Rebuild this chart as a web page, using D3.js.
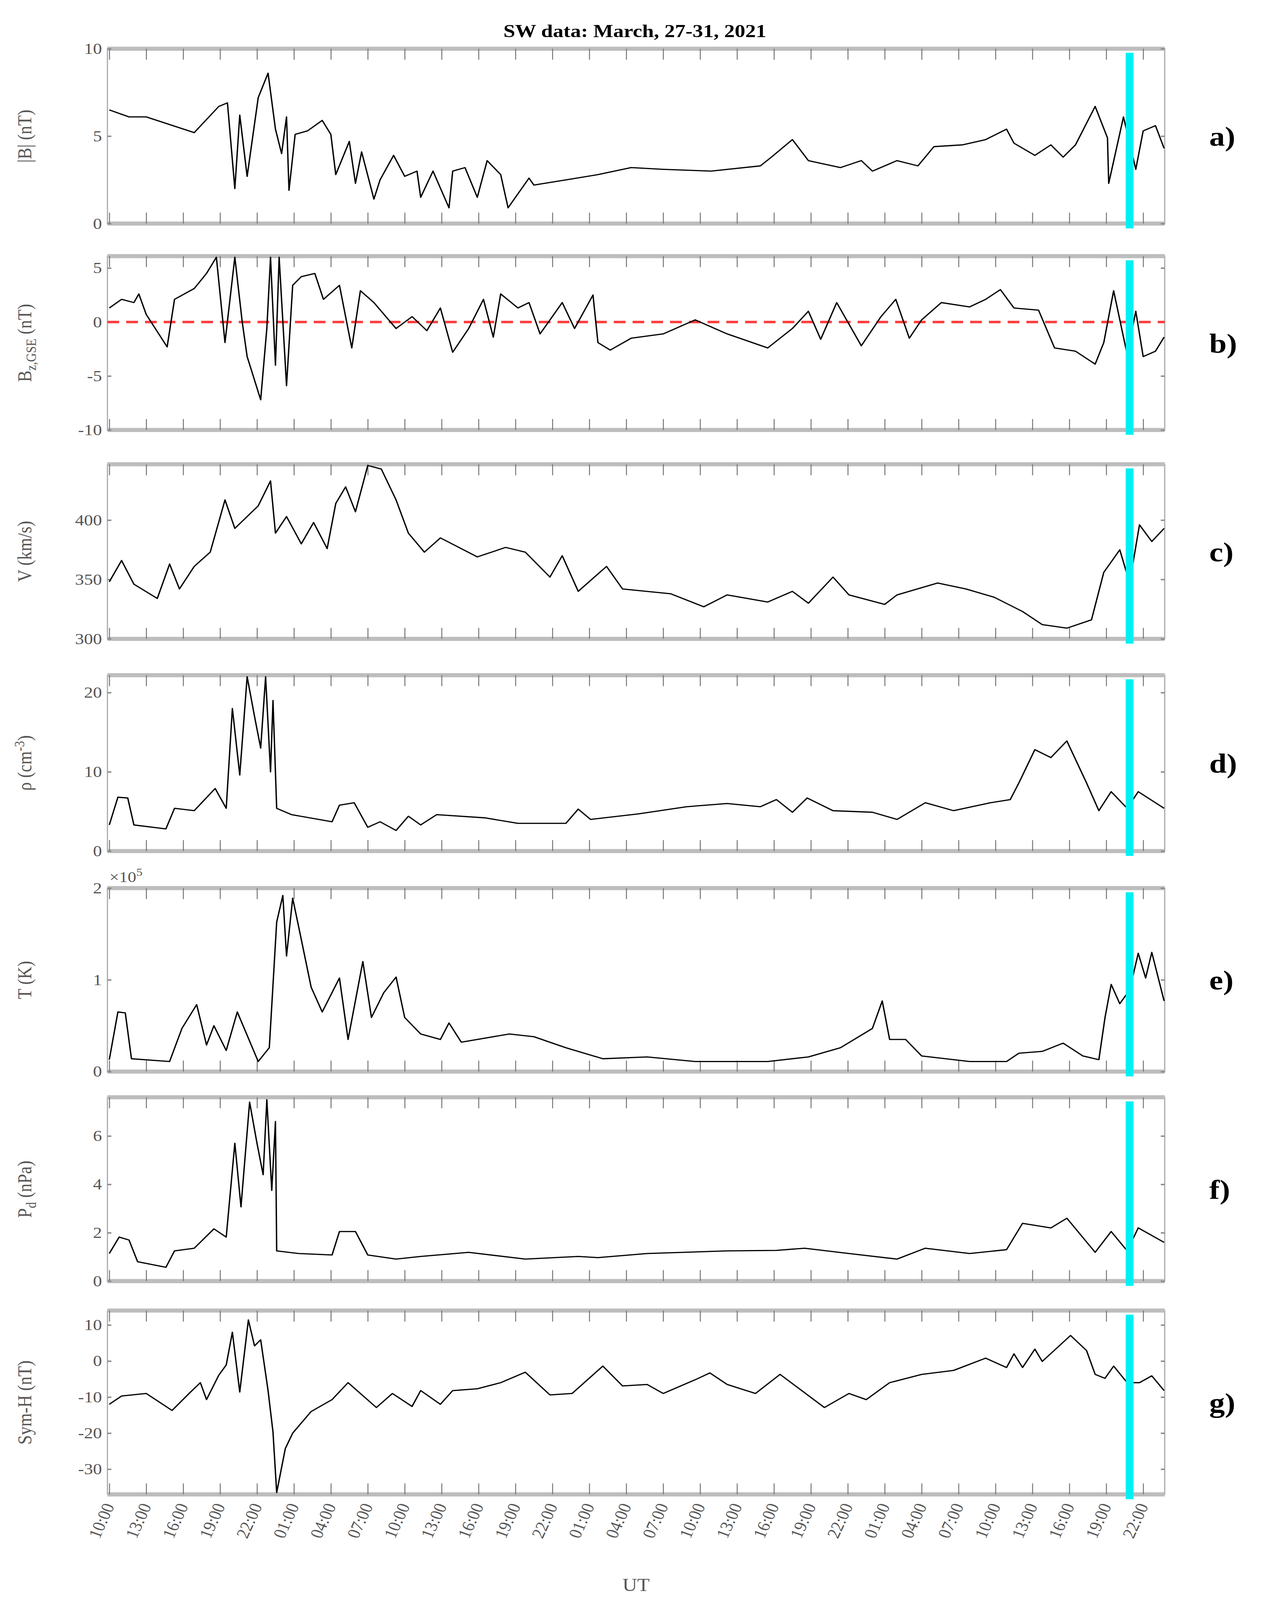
<!DOCTYPE html>
<html>
<head>
<meta charset="utf-8">
<script src="https://cdn.jsdelivr.net/npm/d3@7"></script>
<style>
  html, body { margin: 0; padding: 0; background: #fff; overflow: hidden; }
  svg { display: block; width: 100vw; height: 100vh; }
  text { font-family: "Liberation Serif", "DejaVu Serif", serif; }
</style>
</head>
<body>
<svg id="chart"></svg>
<script>
let width = 3230;
let height = 4666;

// hours since 10:00 UT, 27 March 2021
let tickLabels = ['10:00','13:00','16:00','19:00','22:00',
  '01:00','04:00','07:00','10:00','13:00','16:00','19:00','22:00',
  '01:00','04:00','07:00','10:00','13:00','16:00','19:00','22:00',
  '01:00','04:00','07:00','10:00','13:00','16:00','19:00','22:00'];
let cyanHour = 82.9;

let bMag = [[0,6.5],[1.6,6.1],[3,6.1],[6.9,5.2],[8.9,6.7],[9.6,6.9],[10.2,2.0],[10.6,6.2],[11.2,2.7],[12.1,7.2],[12.9,8.6],[13.5,5.4],[14,4.0],[14.4,6.1],[14.6,1.9],[15.1,5.1],[16.1,5.3],[17.3,5.9],[18,5.1],[18.4,2.8],[19.5,4.7],[20,2.3],[20.5,4.1],[21.5,1.4],[22,2.5],[23.1,3.9],[24,2.7],[25,3.0],[25.3,1.5],[26.3,3.0],[27.6,0.9],[27.9,3.0],[28.9,3.2],[29.9,1.5],[30.7,3.6],[31.8,2.8],[32.4,0.9],[33.2,1.7],[34.1,2.6],[34.5,2.2],[37.1,2.5],[39.7,2.8],[42.4,3.2],[45,3.1],[48.9,3.0],[52.9,3.3],[53.8,3.8],[55.5,4.8],[56.8,3.6],[59.4,3.2],[61.1,3.6],[62,3.0],[64,3.6],[65.7,3.3],[67,4.4],[69.3,4.5],[71.2,4.8],[72.9,5.4],[73.5,4.6],[75.2,3.9],[76.5,4.5],[77.5,3.8],[78.5,4.5],[80.1,6.7],[81.1,4.9],[81.2,2.3],[82.4,6.1],[83.4,3.1],[84,5.3],[85,5.6],[85.7,4.3]];

let bz = [[0,1.3],[1,2.1],[2,1.8],[2.4,2.6],[3,0.7],[4.7,-2.3],[5.3,2.1],[6.9,3.1],[7.9,4.5],[8.7,6],[9.4,-1.9],[10.2,6],[10.8,0],[11.2,-3.2],[12.3,-7.2],[12.8,-0.6],[13.1,6],[13.5,-4],[13.8,6],[14.4,-5.9],[14.9,3.4],[15.6,4.2],[16.7,4.5],[17.4,2.1],[18.7,3.4],[19.7,-2.4],[20.4,2.9],[21.5,1.8],[23.3,-0.6],[24.6,0.5],[25.8,-0.8],[26.9,1.3],[27.9,-2.8],[29.2,-0.6],[30.4,2.1],[31.2,-1.4],[31.8,2.6],[33.2,1.3],[34.1,1.8],[35,-1.1],[36.8,1.8],[37.8,-0.6],[39.3,2.5],[39.7,-1.9],[40.7,-2.6],[42.4,-1.5],[45,-1.1],[47.6,0.2],[50.2,-1.1],[53.5,-2.4],[55.5,-0.6],[56.8,1],[57.8,-1.6],[59.1,1.8],[61.1,-2.2],[62.7,0.5],[63.9,2.1],[65,-1.5],[66,0.2],[67.6,1.8],[69.9,1.4],[71.2,2.1],[72.4,3],[73.5,1.3],[75.5,1.1],[76.8,-2.4],[78.5,-2.7],[80.1,-3.9],[80.8,-1.9],[81.6,2.9],[82.4,-1.4],[82.7,-3],[83.4,1],[84,-3.2],[85,-2.7],[85.7,-1.4]];

let speed = [[0,348],[1,366],[2,346],[3.9,334],[4.9,363],[5.7,342],[6.9,361],[8.2,373],[9.4,417],[10.2,393],[12.1,412],[13.1,433],[13.5,389],[14.4,403],[15.6,380],[16.6,398],[17.7,376],[18.4,414],[19.2,428],[20,407],[21,446],[22.1,443],[23.3,417],[24.3,389],[25.6,373],[26.9,385],[29.9,369],[32.2,377],[33.8,373],[35.8,352],[36.8,370],[38.1,340],[40.4,361],[41.7,342],[45.6,338],[48.3,327],[50.2,337],[53.5,331],[55.5,340],[56.8,330],[58.8,352],[60.1,337],[63,329],[64,337],[67.3,347],[69.6,342],[71.9,335],[74.2,323],[75.8,312],[77.8,309],[79.8,316],[80.8,356],[82.1,375],[82.9,347],[83.7,396],[84.7,382],[85.7,393]];

let density = [[0,3.3],[0.7,6.8],[1.5,6.7],[2,3.3],[4.6,2.8],[5.3,5.4],[6.9,5.1],[8.6,7.9],[9.5,5.4],[10,18],[10.6,9.6],[11.2,22],[11.8,17],[12.3,13],[12.7,22],[13.1,10],[13.3,19],[13.6,5.4],[14.8,4.6],[18.1,3.7],[18.7,5.8],[19.9,6.1],[21,3],[22,3.7],[23.3,2.6],[24.3,4.4],[25.3,3.3],[26.6,4.6],[30.5,4.2],[33.2,3.5],[37.1,3.5],[38.1,5.3],[39.1,4],[43,4.7],[46.9,5.6],[50.2,6],[52.9,5.6],[54.2,6.5],[55.5,4.9],[56.7,6.7],[58.8,5.1],[62,4.9],[64,4],[66.3,6.1],[68.6,5.1],[71.6,6.1],[73.2,6.5],[73.9,8.6],[75.2,12.8],[76.5,11.8],[77.8,13.9],[79.4,8.6],[80.4,5.1],[81.4,7.5],[82.7,5.4],[83.6,7.5],[85.7,5.4]];

let temp = [[0,13000],[0.7,65000],[1.3,64000],[1.8,14000],[4.9,11000],[5.9,47000],[7.1,73000],[7.9,29000],[8.5,50000],[9.5,23000],[10.4,65000],[12.1,11000],[13,26000],[13.6,163000],[14.1,192000],[14.4,126000],[14.9,189000],[15.6,144000],[16.4,92000],[17.3,65000],[18.7,102000],[19.4,35000],[20.6,120000],[21.3,59000],[22.3,86000],[23.3,103000],[24,59000],[25.3,41000],[26.9,35000],[27.6,53000],[28.6,32000],[32.5,41000],[34.5,38000],[37.1,26000],[40.1,14000],[43.7,16000],[47.6,11000],[53.5,11000],[56.8,16000],[59.4,26000],[62,47000],[62.8,77000],[63.4,35000],[64.7,35000],[66,17000],[69.9,11000],[72.9,11000],[73.9,20000],[75.8,22000],[77.5,31000],[79.1,17000],[80.4,13000],[80.9,59000],[81.4,95000],[82.1,74000],[82.9,89000],[83.6,129000],[84.2,102000],[84.7,130000],[85.7,77000]];

let pressure = [[0,1.14],[0.8,1.82],[1.6,1.7],[2.3,0.8],[4.6,0.57],[5.3,1.25],[6.9,1.36],[8.5,2.16],[9.5,1.82],[10.2,5.7],[10.7,3.07],[11.4,7.4],[12,5.7],[12.5,4.4],[12.8,7.5],[13.2,3.75],[13.5,6.6],[13.6,1.25],[15.4,1.14],[18.1,1.08],[18.7,2.05],[20,2.05],[21,1.08],[23.3,0.91],[25.3,1.02],[29.2,1.19],[33.8,0.91],[38.1,1.02],[39.7,0.97],[43.7,1.14],[50.2,1.25],[54.2,1.27],[56.5,1.36],[60.1,1.14],[64,0.91],[66.3,1.36],[69.9,1.14],[72.9,1.3],[74.2,2.39],[76.5,2.2],[77.8,2.6],[80.1,1.19],[81.4,2.05],[82.7,1.25],[83.6,2.2],[85.7,1.6]];

let symH = [[0,-12],[1,-9.7],[3,-9],[5.1,-13.7],[6.6,-8.6],[7.4,-6],[7.9,-10.7],[8.9,-3.9],[9.5,-1.1],[10,8],[10.6,-8.6],[11.3,11.4],[11.8,4.2],[12.3,5.9],[12.9,-8.2],[13.3,-19.7],[13.6,-36.5],[14.3,-24.3],[14.9,-20],[16.4,-14],[18.1,-10.7],[19.4,-6],[21.7,-12.9],[23,-9],[24.6,-12.6],[25.3,-8.2],[26.9,-12],[27.9,-8.2],[29.9,-7.7],[31.8,-6],[33.8,-3.1],[35.8,-9.4],[37.6,-9],[40.1,-1.4],[41.7,-6.9],[43.7,-6.5],[45,-9],[47.6,-5.2],[48.8,-3.3],[50.2,-6.5],[52.5,-9],[54.5,-3.7],[58.1,-12.9],[60.1,-9],[61.5,-10.7],[63.4,-6],[66,-3.7],[68.6,-2.6],[71.2,0.8],[72.9,-1.8],[73.5,2],[74.2,-1.8],[75.2,3.3],[75.8,-0.1],[78.1,7.1],[79.4,2.9],[80.1,-3.7],[80.9,-4.8],[81.6,-1.4],[82.7,-6],[83.7,-6],[84.7,-4.1],[85.7,-8.2]];

let panels = [
  { data: bMag, top: 142, bottom: 652, domain: [0, 10], ticks: [0, 5, 10], letter: 'a)' },
  { data: bz, top: 747, bottom: 1254, domain: [-10, 6.1], ticks: [-10, -5, 0, 5], letter: 'b)', zero: true },
  { data: speed, top: 1354, bottom: 1863, domain: [300, 447], ticks: [300, 350, 400], letter: 'c)' },
  { data: density, top: 1969, bottom: 2482, domain: [0, 22.2], ticks: [0, 10, 20], letter: 'd)' },
  { data: temp, top: 2590, bottom: 3125, domain: [0, 200000], ticks: [0, 100000, 200000], letter: 'e)', fmt: d => d / 1e5 },
  { data: pressure, top: 3200, bottom: 3736, domain: [0, 7.6], ticks: [0, 2, 4, 6], letter: 'f)' },
  { data: symH, top: 3822, bottom: 4358, domain: [-37, 14], ticks: [-30, -20, -10, 0, 10], letter: 'g)' }
];

let left = 275;
let right = 2981;

// stretch the 3230x4666 drawing over the whole window
let svg = d3.select('#chart')
  .attr('viewBox', `0 0 ${width} ${height}`)
  .attr('preserveAspectRatio', 'none');

let xScale = d3.scaleLinear().domain([-0.15, 85.75]).range([left, right]);
let tickHours = tickLabels.map((d, i) => i * 3);

svg.append('text')
  .attr('x', 1625).attr('y', 108)
  .attr('text-anchor', 'middle')
  .attr('font-size', 54).attr('font-weight', 'bold')
  .text('SW data: March, 27-31, 2021');

panels.forEach(p => {
  let y = d3.scaleLinear().domain(p.domain).range([p.bottom, p.top]);
  let g = svg.append('g');

  // frame
  g.append('rect').attr('x', left).attr('y', p.top).attr('width', right - left)
    .attr('height', p.bottom - p.top).attr('fill', 'none').attr('stroke', '#aaa').attr('stroke-width', 3);
  [p.top, p.bottom].forEach(yy => g.append('line')
    .attr('x1', left).attr('x2', right).attr('y1', yy).attr('y2', yy)
    .attr('stroke', '#bdbdbd').attr('stroke-width', 12));

  // x ticks (inside)
  g.append('g').attr('transform', `translate(0,${p.bottom})`)
    .call(d3.axisTop(xScale).tickValues(tickHours).tickSize(32).tickFormat(''))
    .call(a => a.select('.domain').remove())
    .call(a => a.selectAll('line').attr('stroke', '#777').attr('stroke-width', 2.5));
  g.append('g').attr('transform', `translate(0,${p.top})`)
    .call(d3.axisBottom(xScale).tickValues(tickHours).tickSize(32).tickFormat(''))
    .call(a => a.select('.domain').remove())
    .call(a => a.selectAll('line').attr('stroke', '#777').attr('stroke-width', 2.5));

  // y ticks
  g.append('g').attr('transform', `translate(${left},0)`)
    .call(d3.axisRight(y).tickValues(p.ticks).tickSize(10).tickFormat(''))
    .call(a => a.select('.domain').remove())
    .call(a => a.selectAll('line').attr('stroke', '#888').attr('stroke-width', 4));
  g.append('g').attr('transform', `translate(${right},0)`)
    .call(d3.axisLeft(y).tickValues(p.ticks).tickSize(10).tickFormat(''))
    .call(a => a.select('.domain').remove())
    .call(a => a.selectAll('line').attr('stroke', '#888').attr('stroke-width', 4));
  g.selectAll('.ylab').data(p.ticks).enter().append('text')
    .attr('x', left - 14).attr('y', d => y(d) + 15)
    .attr('text-anchor', 'end').attr('font-size', 46).attr('fill', '#555')
    .text(d => p.fmt ? p.fmt(d) : d);

  if (p.zero) {
    g.append('line').attr('x1', left).attr('x2', right)
      .attr('y1', y(0)).attr('y2', y(0))
      .attr('stroke', '#ff3b3b').attr('stroke-width', 7).attr('stroke-dasharray', '30,18');
  }

  let line = d3.line().x(d => xScale(d[0])).y(d => y(d[1]));
  g.append('path').datum(p.data).attr('d', line)
    .attr('fill', 'none').attr('stroke', '#000').attr('stroke-width', 3.5).attr('stroke-linejoin', 'round');

  // cyan marker
  g.append('rect').attr('x', xScale(cyanHour) - 10).attr('y', p.top + 12)
    .attr('width', 20).attr('height', p.bottom - p.top + 2)
    .attr('fill', '#00f0f5');

  g.append('text')
    .attr('x', 3095).attr('y', (p.top + p.bottom) / 2 + 28)
    .attr('font-size', 80).attr('font-weight', 'bold').text(p.letter);
});

// y labels
let yLabels = [
  { y: 397, parts: [['|B| (nT)', false]] },
  { y: 1000, parts: [['B', false], ['z,GSE', true], [' (nT)', false]] },
  { y: 1608, parts: [['V (km/s)', false]] },
  { y: 2225, parts: [['ρ (cm', false], ['-3', 'sup'], [')', false]] },
  { y: 2858, parts: [['T (K)', false]] },
  { y: 3468, parts: [['P', false], ['d', true], [' (nPa)', false]] },
  { y: 4090, parts: [['Sym-H (nT)', false]] }
];
yLabels.forEach(l => {
  let t = svg.append('text')
    .attr('transform', `translate(80,${l.y}) rotate(-90)`)
    .attr('text-anchor', 'middle').attr('font-size', 50).attr('fill', '#555');
  l.parts.forEach(pt => {
    let s = t.append('tspan').text(pt[0]);
    if (pt[1] === true) s.attr('font-size', 36).attr('dy', 12);
    else if (pt[1] === 'sup') s.attr('font-size', 36).attr('dy', -18);
    else if (pt[0].startsWith(' ') || pt[0] === ')') s.attr('dy', pt[0] === ')' ? 18 : -12);
  });
});

// x10^5 exponent
let ex = svg.append('text').attr('x', 280).attr('y', 2572).attr('font-size', 44).attr('fill', '#555');
ex.append('tspan').text('×10');
ex.append('tspan').attr('font-size', 32).attr('dy', -18).text('5');

// x tick labels
svg.selectAll('.xlab').data(tickLabels).enter().append('text')
  .attr('transform', (d, i) => `translate(${xScale(i * 3) + 14},${4392}) rotate(-68)`)
  .attr('text-anchor', 'end').attr('font-size', 46).attr('fill', '#555')
  .text(d => d);

svg.append('text').attr('x', 1628).attr('y', 4640)
  .attr('text-anchor', 'middle').attr('font-size', 52).attr('fill', '#555').text('UT');
</script>
</body>
</html>
